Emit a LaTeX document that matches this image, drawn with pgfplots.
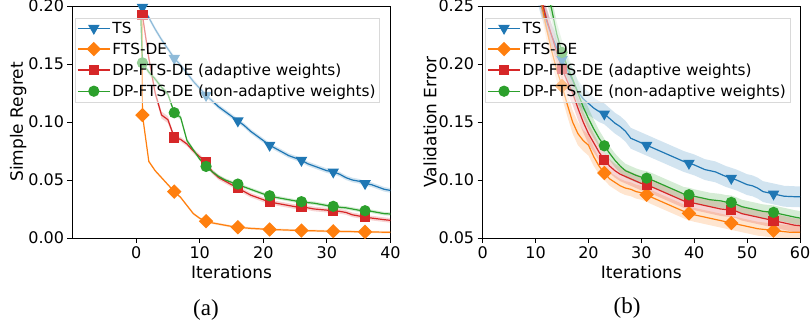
\documentclass[border=0pt]{standalone}
\usepackage{pgfplots}
\pgfplotsset{compat=1.18}
\usepackage{pgfplotstable}
\usepackage{fontspec}
\setmainfont{DejaVu Sans}
\newfontfamily\capfont{Liberation Serif}
\definecolor{c0}{HTML}{1F77B4}
\definecolor{c1}{HTML}{FF7F0E}
\definecolor{c2}{HTML}{2CA02C}
\definecolor{c3}{HTML}{D62728}

% Left panel: mean and band half-width of each method
\pgfplotstableread{
x ts tse fts ftse rd rde gr gre
0 0.25 0.002 1.0 0.001 0.5 0.002 0.3 0.0015
1 0.199 0.002 0.106 0.001 0.192 0.002 0.151 0.0015
2 0.190 0.002 0.066 0.001 0.155 0.003 0.143 0.002
3 0.180 0.002 0.058 0.001 0.125 0.003 0.137 0.002
4 0.171 0.002 0.052 0.001 0.106 0.003 0.130 0.002
5 0.163 0.002 0.046 0.001 0.102 0.003 0.124 0.002
6 0.155 0.002 0.040 0.001 0.0867 0.002 0.108 0.002
7 0.149 0.002 0.035 0.001 0.085 0.002 0.104 0.002
8 0.142 0.002 0.028 0.001 0.081 0.002 0.084 0.002
9 0.135 0.002 0.021 0.001 0.075 0.002 0.076 0.0015
10 0.129 0.002 0.017 0.001 0.070 0.002 0.068 0.0015
11 0.123 0.002 0.0145 0.001 0.065 0.002 0.0617 0.0015
12 0.118 0.002 0.013 0.001 0.057 0.002 0.057 0.0015
13 0.113 0.002 0.012 0.001 0.052 0.002 0.053 0.0015
14 0.109 0.002 0.011 0.001 0.049 0.002 0.050 0.0015
15 0.105 0.002 0.010 0.001 0.046 0.002 0.048 0.0015
16 0.101 0.002 0.0093 0.001 0.043 0.002 0.0465 0.0015
17 0.097 0.002 0.0088 0.001 0.040 0.002 0.044 0.0015
18 0.092 0.002 0.0083 0.001 0.037 0.002 0.042 0.0015
19 0.088 0.002 0.0080 0.001 0.035 0.002 0.040 0.0015
20 0.084 0.002 0.0077 0.001 0.033 0.002 0.038 0.0015
21 0.080 0.002 0.0073 0.001 0.031 0.002 0.0364 0.0015
22 0.077 0.002 0.0071 0.001 0.030 0.002 0.035 0.0015
23 0.074 0.002 0.0070 0.001 0.029 0.002 0.034 0.0015
24 0.071 0.002 0.0068 0.001 0.028 0.002 0.033 0.0015
25 0.069 0.002 0.0066 0.001 0.027 0.002 0.032 0.0015
26 0.067 0.002 0.0064 0.001 0.0265 0.002 0.0313 0.0015
27 0.064 0.002 0.0063 0.001 0.026 0.002 0.0305 0.0015
28 0.062 0.002 0.0062 0.001 0.025 0.002 0.030 0.0015
29 0.060 0.002 0.0060 0.001 0.0245 0.002 0.029 0.0015
30 0.058 0.002 0.0059 0.001 0.024 0.002 0.028 0.0015
31 0.057 0.002 0.0058 0.001 0.0235 0.002 0.0273 0.0015
32 0.055 0.002 0.0057 0.001 0.023 0.002 0.0265 0.0015
33 0.052 0.002 0.0056 0.001 0.022 0.002 0.026 0.0015
34 0.050 0.002 0.0055 0.001 0.020 0.002 0.025 0.0015
35 0.049 0.002 0.0054 0.001 0.019 0.002 0.024 0.0015
36 0.047 0.002 0.0053 0.001 0.018 0.002 0.0235 0.0015
37 0.046 0.002 0.0052 0.001 0.0172 0.002 0.023 0.0015
38 0.044 0.002 0.0051 0.001 0.0165 0.002 0.022 0.0015
39 0.042 0.002 0.0050 0.001 0.0158 0.002 0.021 0.0015
40 0.041 0.002 0.0050 0.001 0.0152 0.002 0.0207 0.0015
}\leftdata

% Right panel
\pgfplotstableread{
x ts tse fts ftse rd rde gr gre
9 0.29 0.010 0.32 0.010 0.32 0.010 0.34 0.010
10 0.27 0.010 0.29 0.010 0.285 0.010 0.31 0.010
11 0.252 0.010 0.255 0.010 0.258 0.010 0.285 0.010
12 0.238 0.010 0.232 0.010 0.240 0.010 0.265 0.010
13 0.225 0.010 0.212 0.010 0.225 0.010 0.248 0.010
14 0.214 0.010 0.195 0.010 0.210 0.010 0.226 0.010
15 0.204 0.010 0.181 0.010 0.196 0.010 0.210 0.010
16 0.195 0.010 0.165 0.010 0.185 0.010 0.198 0.010
17 0.186 0.010 0.150 0.010 0.175 0.010 0.187 0.010
18 0.176 0.010 0.140 0.010 0.162 0.010 0.175 0.010
19 0.170 0.010 0.134 0.009 0.150 0.009 0.163 0.009
20 0.166 0.010 0.130 0.009 0.140 0.009 0.153 0.009
21 0.162 0.009 0.120 0.008 0.132 0.008 0.144 0.008
22 0.159 0.009 0.112 0.007 0.124 0.007 0.136 0.007
23 0.157 0.009 0.106 0.006 0.1174 0.006 0.1295 0.006
24 0.153 0.009 0.101 0.006 0.112 0.006 0.123 0.006
25 0.149 0.009 0.098 0.006 0.108 0.006 0.117 0.006
26 0.146 0.009 0.095 0.006 0.105 0.006 0.112 0.006
27 0.142 0.009 0.093 0.006 0.103 0.006 0.108 0.006
28 0.136 0.009 0.092 0.006 0.101 0.006 0.106 0.006
29 0.134 0.009 0.090 0.006 0.099 0.006 0.104 0.006
30 0.132 0.009 0.089 0.006 0.097 0.006 0.1025 0.006
31 0.130 0.009 0.0873 0.006 0.0959 0.006 0.1016 0.006
32 0.128 0.009 0.085 0.006 0.094 0.006 0.100 0.006
33 0.126 0.009 0.083 0.006 0.092 0.006 0.098 0.006
34 0.124 0.009 0.081 0.006 0.090 0.006 0.096 0.006
35 0.122 0.009 0.079 0.006 0.088 0.006 0.094 0.006
36 0.120 0.009 0.077 0.006 0.086 0.006 0.092 0.006
37 0.118 0.009 0.075 0.006 0.084 0.006 0.090 0.006
38 0.116 0.009 0.073 0.006 0.082 0.006 0.088 0.006
39 0.1145 0.009 0.0712 0.006 0.0807 0.006 0.0873 0.006
40 0.113 0.009 0.070 0.006 0.080 0.006 0.086 0.006
41 0.111 0.009 0.069 0.006 0.079 0.006 0.085 0.006
42 0.109 0.009 0.068 0.006 0.078 0.006 0.084 0.006
43 0.108 0.009 0.067 0.006 0.077 0.006 0.083 0.006
44 0.107 0.009 0.066 0.006 0.076 0.006 0.0825 0.006
45 0.105 0.009 0.065 0.006 0.075 0.006 0.082 0.006
46 0.103 0.009 0.064 0.006 0.0745 0.006 0.081 0.006
47 0.1015 0.009 0.0629 0.006 0.0741 0.006 0.0807 0.006
48 0.100 0.009 0.062 0.006 0.073 0.006 0.079 0.006
49 0.098 0.009 0.061 0.006 0.071 0.006 0.077 0.006
50 0.096 0.009 0.060 0.006 0.070 0.006 0.076 0.006
51 0.095 0.009 0.059 0.006 0.069 0.006 0.075 0.006
52 0.093 0.009 0.058 0.006 0.068 0.006 0.074 0.006
53 0.090 0.009 0.0575 0.006 0.067 0.006 0.073 0.006
54 0.089 0.009 0.057 0.006 0.066 0.006 0.0725 0.006
55 0.088 0.009 0.0563 0.006 0.0649 0.006 0.0721 0.006
56 0.087 0.009 0.056 0.006 0.064 0.006 0.071 0.006
57 0.086 0.009 0.0555 0.006 0.063 0.006 0.070 0.006
58 0.0858 0.009 0.055 0.006 0.062 0.006 0.069 0.006
59 0.0856 0.009 0.055 0.006 0.061 0.006 0.068 0.006
60 0.0855 0.009 0.0549 0.006 0.0606 0.006 0.0672 0.006
}\rightdata

\pgfplotsset{
  panel/.style={
    scale only axis, height=232pt,
    axis line style={line width=0.8pt},
    tick align=outside, tick pos=left,
    major tick length=5pt,
    tick style={black, line width=0.8pt},
    ticklabel style={font=\fontsize{16}{16}\selectfont},
    label style={font=\fontsize{17}{17}\selectfont},
    ylabel shift=-5pt,
    /pgf/number format/assume math mode=true,
    legend cell align=left,
    legend style={at={(0.008,0.95)}, anchor=north west,
      draw=black!15, fill=white, fill opacity=0.5, text opacity=1,
      font=\fontsize{15.3}{15.3}\selectfont, row sep=4pt, inner sep=2pt},
  },
  lg/.style={legend image code/.code={\draw[##1, mark repeat=2, mark phase=2, opacity=1] plot coordinates {(0pt,0pt) (16pt,0pt) (32pt,0pt)};}},
  mts/.style={c0, mark=triangle*, mark size=5.5pt, mark options={solid, rotate=180}},
  mfts/.style={c1, mark=square*, mark size=4.5pt, mark options={solid, rotate=45}},
  mred/.style={c3, mark=square*, mark size=4.5pt, mark options={solid}},
  mgreen/.style={c2, mark=*, mark size=5pt, mark options={solid}},
  sts/.style={mts, line width=1.2pt, lg},
  sfts/.style={mfts, line width=1.2pt, lg},
  sred/.style={mred, line width=1.2pt, lg},
  sgreen/.style={mgreen, line width=1.2pt, lg},
  bandbase/.style={draw=none, stack plots=y, forget plot},
  bandfill/.style={draw=none, fill=#1, fill opacity=0.2, stack plots=y, forget plot},
}

\begin{document}
\begin{tikzpicture}
\begin{axis}[panel, name=left, at={(72.5pt,85pt)}, anchor=south west, width=318pt,
  xmin=-10, xmax=40, ymin=0, ymax=0.2,
  xtick={0,10,20,30,40}, ytick={0,0.05,0.1,0.15,0.2},
  yticklabel style={/pgf/number format/.cd, fixed, fixed zerofill, precision=2},
  xlabel={Iterations}, ylabel={Simple Regret}]
\addplot[bandbase] table[x=x, y expr=\thisrow{ts}-\thisrow{tse}] {\leftdata};
\addplot[bandfill=c0] table[x=x, y expr=2*\thisrow{tse}] {\leftdata} \closedcycle;
\addplot[bandbase] table[x=x, y expr=\thisrow{fts}-\thisrow{ftse}-\thisrow{ts}-\thisrow{tse}] {\leftdata};
\addplot[bandfill=c1] table[x=x, y expr=2*\thisrow{ftse}] {\leftdata} \closedcycle;
\addplot[bandbase] table[x=x, y expr=\thisrow{rd}-\thisrow{rde}-\thisrow{fts}-\thisrow{ftse}] {\leftdata};
\addplot[bandfill=c3] table[x=x, y expr=2*\thisrow{rde}] {\leftdata} \closedcycle;
\addplot[bandbase] table[x=x, y expr=\thisrow{gr}-\thisrow{gre}-\thisrow{rd}-\thisrow{rde}] {\leftdata};
\addplot[bandfill=c2] table[x=x, y expr=2*\thisrow{gre}] {\leftdata} \closedcycle;
\addplot[sts, mark repeat=5, mark phase=1] table[x=x,y=ts] {\leftdata};
\addplot[sfts, mark repeat=5, mark phase=1] table[x=x,y=fts] {\leftdata};
\addplot[sred, mark repeat=5, mark phase=1] table[x=x,y=rd] {\leftdata};
\addplot[sgreen, mark repeat=5, mark phase=1] table[x=x,y=gr] {\leftdata};
\legend{TS, FTS-DE, DP-FTS-DE (adaptive weights), DP-FTS-DE (non-adaptive weights)}
\end{axis}
\begin{axis}[panel, name=right, at={(482.7pt,85pt)}, anchor=south west, width=317.3pt,
  xmin=0, xmax=60, ymin=0.05, ymax=0.25,
  xtick={0,10,20,30,40,50,60}, ytick={0.05,0.1,0.15,0.2,0.25},
  yticklabel style={/pgf/number format/.cd, fixed, fixed zerofill, precision=2},
  xlabel={Iterations}, ylabel={Validation Error}]
\addplot[bandbase] table[x=x, y expr=\thisrow{ts}-\thisrow{tse}] {\rightdata};
\addplot[bandfill=c0] table[x=x, y expr=2*\thisrow{tse}] {\rightdata} \closedcycle;
\addplot[bandbase] table[x=x, y expr=\thisrow{fts}-\thisrow{ftse}-\thisrow{ts}-\thisrow{tse}] {\rightdata};
\addplot[bandfill=c1] table[x=x, y expr=2*\thisrow{ftse}] {\rightdata} \closedcycle;
\addplot[bandbase] table[x=x, y expr=\thisrow{rd}-\thisrow{rde}-\thisrow{fts}-\thisrow{ftse}] {\rightdata};
\addplot[bandfill=c3] table[x=x, y expr=2*\thisrow{rde}] {\rightdata} \closedcycle;
\addplot[bandbase] table[x=x, y expr=\thisrow{gr}-\thisrow{gre}-\thisrow{rd}-\thisrow{rde}] {\rightdata};
\addplot[bandfill=c2] table[x=x, y expr=2*\thisrow{gre}] {\rightdata} \closedcycle;
\addplot[sts, mark repeat=8, mark phase=4] table[x=x,y=ts] {\rightdata};
\addplot[mts, only marks, forget plot] coordinates {(15,0.204)};
\addplot[sfts, mark repeat=8, mark phase=4] table[x=x,y=fts] {\rightdata};
\addplot[mfts, only marks, forget plot] coordinates {(15,0.181)};
\addplot[sred, mark repeat=8, mark phase=4] table[x=x,y=rd] {\rightdata};
\addplot[mred, only marks, forget plot] coordinates {(15,0.196)};
\addplot[sgreen, mark repeat=8, mark phase=3] table[x=x,y=gr] {\rightdata};
\addplot[mgreen, only marks, forget plot] coordinates {(15,0.210)};
\legend{TS, FTS-DE, DP-FTS-DE (adaptive weights), DP-FTS-DE (non-adaptive weights)}
\end{axis}
\node[font=\capfont\fontsize{23}{23}\selectfont] at ([xshift=-25.5pt, yshift=-72pt]left.south) {(a)};
\node[font=\capfont\fontsize{23}{23}\selectfont] at ([xshift=-14.3pt, yshift=-70pt]right.south) {(b)};
\pgfresetboundingbox
\path[use as bounding box] (0,0) rectangle (810pt,323pt);
\end{tikzpicture}
\end{document}
